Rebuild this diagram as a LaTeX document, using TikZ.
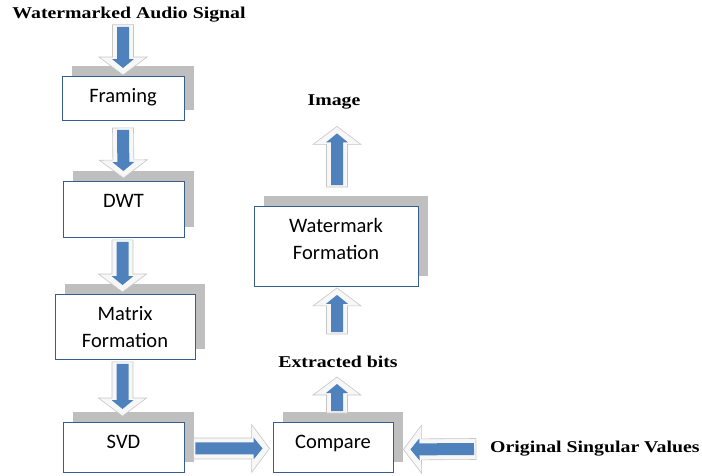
\documentclass[tikz,border=0pt]{standalone}
\usepackage{fontspec}
\setmainfont{Liberation Serif}
\newfontfamily\boxfont{Carlito}
\usetikzlibrary{calc,shadows}
\definecolor{arrblue}{HTML}{4F81BD}
\definecolor{boxedge}{HTML}{385D8A}
\newcommand{\widetext}[1]{\scalebox{1.2}[1]{#1}}
\newcommand{\blockarrow}[2]{%
  \path let \p1=(#1), \p2=(#2), \n1={atan2(\y2-\y1,\x2-\x1)}, \n2={veclen(\x2-\x1,\y2-\y1)} in
    (\p1) pic[rotate=\n1]{blockarrow=\n2};}
\tikzset{
  box/.style={draw=boxedge, line width=0.9pt, fill=white, anchor=north, align=center,
    font=\boxfont\fontsize{20.5}{27}\selectfont, inner xsep=0pt, inner ysep=6pt, text height=20pt,
    general shadow={fill=gray!50, shadow xshift=10pt, shadow yshift=10pt}},
  twoline/.style={text height=47pt},
  lbl/.style={font=\fontsize{16.5}{18}\selectfont\bfseries, inner sep=0pt},
  blockarrow/.pic={
    \pgfmathsetmacro\arrlen{#1}
    \filldraw[draw=gray!45, fill=gray!6, line width=0.6pt] (0,-10.5) -- (\arrlen-18,-10.5) -- (\arrlen-18,-24)
      -- (\arrlen,0) -- (\arrlen-18,24) -- (\arrlen-18,10.5) -- (0,10.5) -- cycle;
    \fill[arrblue] (2,-6) -- (\arrlen-16,-6) -- (\arrlen-16,-11) -- (\arrlen-7,0)
      -- (\arrlen-16,11) -- (\arrlen-16,6) -- (2,6) -- cycle;
  }
}
\begin{document}
\begin{tikzpicture}[x=1pt,y=-1pt]
\useasboundingbox (0,0) rectangle (702,475);
% left column
\node[lbl] (title) at (129,15) {\widetext{Watermarked Audio Signal}};
\node[box, minimum width=122pt, text depth=12pt] (framing) at (123,76) {Framing};
\node[box, minimum width=121pt, text depth=24pt] (dwt) at (123.5,181) {DWT};
\node[box, twoline, minimum width=140pt, text depth=6pt] (matrix) at (125,294) {Matrix\\Formation};
\node[box, minimum width=121pt, text depth=18pt] (svd) at (123.5,422) {SVD};
% right column
\node[box, minimum width=120pt, text depth=18pt] (compare) at (333,422) {Compare};
\node[box, twoline, minimum width=164pt, text depth=21pt] (wmf) at (336,206) {Watermark\\Formation};
\node[lbl] (image) at (334,102) {\widetext{Image}};
\node[lbl] (bits) at (338,362) {\widetext{Extracted bits}};
\node[lbl, anchor=west] (orig) at (490,449) {\widetext{Original Singular Values}};

\blockarrow{$(title.south)+(-6,2)$}{$(framing.north)+(0,-1)$}
\blockarrow{$(framing.south)+(0,7)$}{$(dwt.north)+(0,-3)$}
\blockarrow{$(dwt.south)+(-1,2)$}{$(matrix.north)+(-2.5,-2)$}
\blockarrow{$(matrix.south)+(-2.5,2)$}{$(svd.north)+(-1,-6)$}
\blockarrow{$(svd.east)+(9,1)$}{$(compare.west)+(-3,1)$}
\blockarrow{$(orig.west)+(-14,0)$}{$(compare.east)+(10,2)$}
\blockarrow{$(compare.north)+(4,-9)$}{$(bits.south)+(-1,9)$}
\blockarrow{$(bits.north)+(-1,-22)$}{$(wmf.south)+(1,1)$}
\blockarrow{$(wmf.north)+(1,-19)$}{$(image.south)+(3,17)$}
\end{tikzpicture}
\end{document}
